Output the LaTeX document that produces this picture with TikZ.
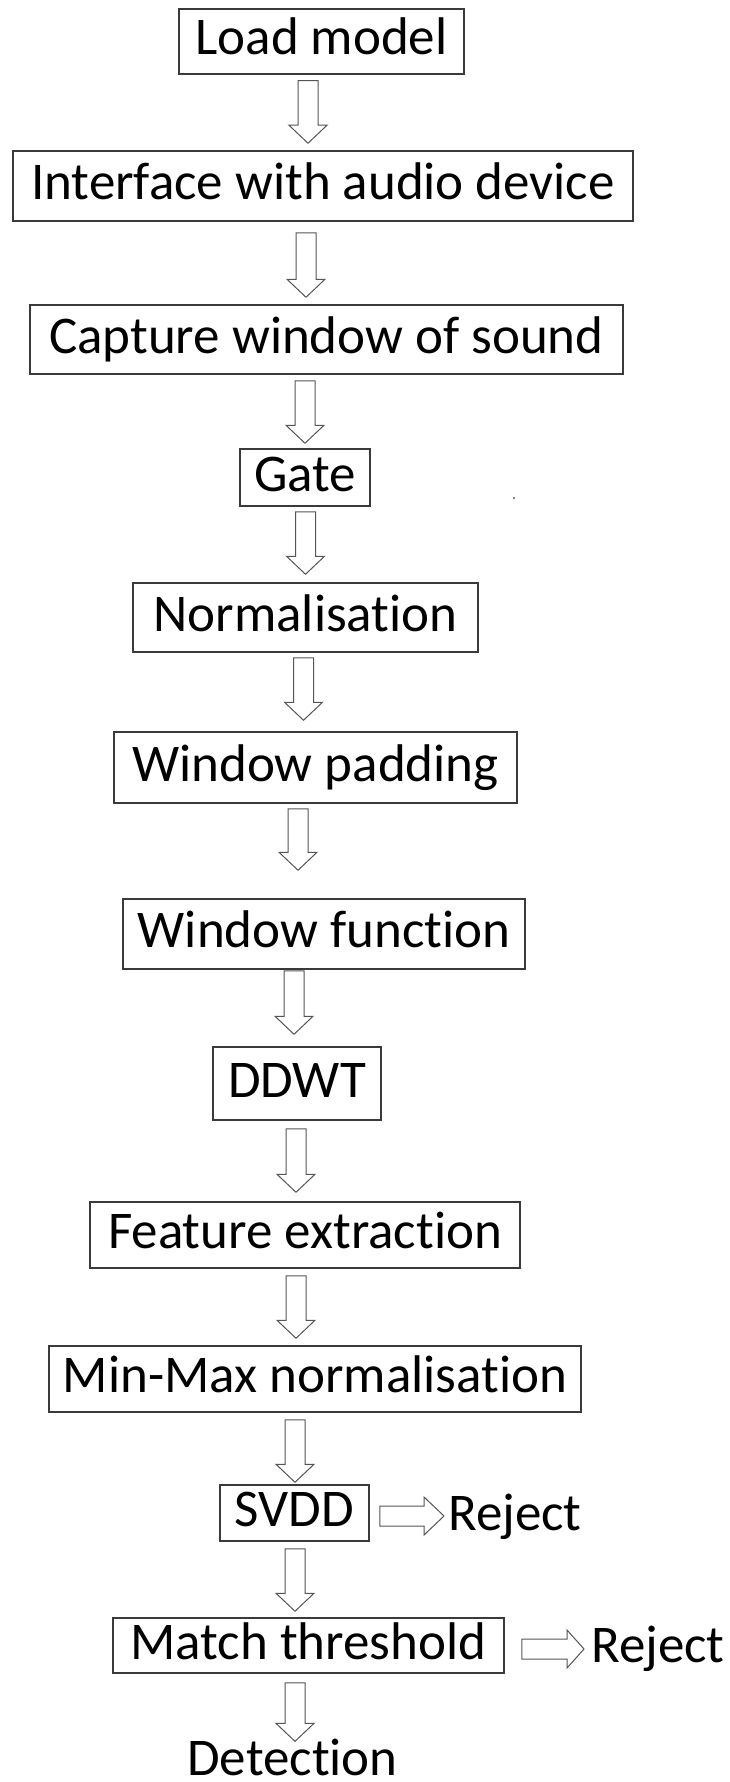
\documentclass[tikz,border=0pt]{standalone}
\usepackage{fontspec}
\setmainfont{Carlito}[Ligatures=NoCommon]
\usetikzlibrary{calc}
\definecolor{boxgray}{HTML}{3A3A3A}
\definecolor{arrowgray}{HTML}{555555}

% hollow block arrow pointing down: from, to, x centre, top gap, bottom gap
\newcommand\downflow[5]{%
  \draw[flowarrow] let \p1=(#1.south), \p2=(#2.north) in
    ({#3pt-10pt},{\y1-#4pt}) -- ({#3pt+10pt},{\y1-#4pt})
    -- ({#3pt+10pt},{\y2+#5pt+18pt}) -- ({#3pt+19pt},{\y2+#5pt+18pt})
    -- (#3pt,{\y2+#5pt})
    -- ({#3pt-19pt},{\y2+#5pt+18pt}) -- ({#3pt-10pt},{\y2+#5pt+18pt}) -- cycle;}

% hollow block arrow pointing right: from, to, y centre, left gap, right gap, head length
\newcommand\sideflow[6]{%
  \draw[flowarrow] let \p1=(#1.east), \p2=(#2.west) in
    ({\x1+#4pt},{-#3pt+10pt}) -- ({\x2-#5pt-#6pt},{-#3pt+10pt})
    -- ({\x2-#5pt-#6pt},{-#3pt+19pt}) -- ({\x2-#5pt},-#3pt)
    -- ({\x2-#5pt-#6pt},{-#3pt-19pt}) -- ({\x2-#5pt-#6pt},{-#3pt-10pt})
    -- ({\x1+#4pt},{-#3pt-10pt}) -- cycle;}

\tikzset{
  stepbox/.style={draw=boxgray, line width=1.5pt, inner sep=0pt,
    text height=40pt, text depth=13pt,
    font=\fontsize{53}{62}\selectfont},
  lbl/.style={inner sep=0pt, font=\fontsize{53}{62}\selectfont},
  flowarrow/.style={draw=arrowgray, line width=1pt, fill=white, line join=miter}
}

\begin{document}
\begin{tikzpicture}[x=1pt, y=-1pt]
  \useasboundingbox (0,0) rectangle (729,1782);

  % processing steps
  \node[stepbox, minimum width=285pt, minimum height=65pt] (load)    at (321.5,41.5)  {Load model};
  \node[stepbox, minimum width=620pt, minimum height=70pt] (iface)   at (323,186)     {Interface with audio device};
  \node[stepbox, minimum width=593pt, minimum height=69pt] (capture) at (326.5,339.5) {Capture window of sound};
  \node[stepbox, minimum width=130pt, minimum height=57pt] (gate)    at (305,477.5)   {Gate};
  \node[stepbox, minimum width=345pt, minimum height=69pt] (norm)    at (305.5,617.5) {Normalisation};
  \node[stepbox, minimum width=403pt, minimum height=71pt] (wpad)    at (315.5,767.5) {Window padding};
  \node[stepbox, minimum width=402pt, minimum height=70pt] (wfun)    at (324,934)     {Window function};
  \node[stepbox, minimum width=168pt, minimum height=73pt] (ddwt)    at (297,1083.5)  {DDWT};
  \node[stepbox, minimum width=430pt, minimum height=66pt] (feat)    at (305,1235)    {Feature extraction};
  \node[stepbox, minimum width=532pt, minimum height=66pt] (minmax)  at (315,1379)    {Min-Max normalisation};
  \node[stepbox, minimum width=149pt, minimum height=56pt] (svdd)    at (294.5,1513)  {SVDD};
  \node[stepbox, minimum width=391pt, minimum height=55pt] (match)   at (308.5,1645.5){Match threshold};

  % outcomes
  \node[lbl, anchor=base west] (rej1) at (448,1530) {Reject};
  \node[lbl, anchor=base west] (rej2) at (591,1662) {Reject};
  \node[lbl, anchor=base] (detect) at (292.5,1775) {Detection};

  % flow arrows
  \downflow{load}{iface}{308}{6}{7}
  \downflow{iface}{capture}{306}{11}{7}
  \downflow{capture}{gate}{305}{6}{5}
  \downflow{gate}{norm}{305.5}{5}{8}
  \downflow{norm}{wpad}{303.5}{5}{11}
  \downflow{wpad}{wfun}{298}{5}{28}
  \downflow{wfun}{ddwt}{294}{1}{12}
  \downflow{ddwt}{feat}{296}{8}{9}
  \downflow{feat}{minmax}{296}{7}{7}
  \downflow{minmax}{svdd}{295}{7}{2}
  \downflow{svdd}{match}{295}{7}{6}
  \downflow{match}{detect}{295}{9}{-3}

  \sideflow{svdd}{rej1}{1516}{10}{4}{20}
  \sideflow{match}{rej2}{1649}{17}{7}{17}

  % small speck beside the gate step
  \fill[arrowgray] (514,498) circle (1.2pt);
\end{tikzpicture}
\end{document}
